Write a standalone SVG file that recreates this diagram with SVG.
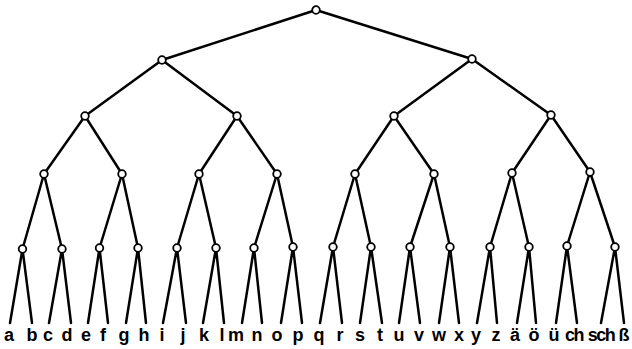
<svg xmlns="http://www.w3.org/2000/svg" width="632" height="349" viewBox="0 0 632 349">
<style>
.e{stroke:#000;stroke-width:2.5;stroke-linecap:round;fill:none}
.n{fill:#fff;stroke:#000;stroke-width:1.8}
.t{font-family:"Liberation Sans",Arial,sans-serif;font-weight:bold;font-size:18px;text-anchor:middle;fill:#000}
</style>
<rect width="632" height="349" fill="#fff"/>
<g id="edges" class="e">
<path d="M316 10L162 60M316 10L472 59"/>
<path d="M162 60L85 116M162 60L237 116M472 59L394 116M472 59L551 115"/>
<path d="M85 116L44 174M85 116L122 174M237 116L199 174M237 116L277 174M394 116L355 174M394 116L434 174M551 115L512 173M551 115L590 172"/>
<path d="M44 174L22.5 249M44 174L62 249M122 174L99.5 248M122 174L138 248M199 174L177 248M199 174L216 248M277 174L254 248M277 174L293 247M355 174L333 247M355 174L371 247M434 174L410 247M434 174L450 247M512 173L490 247M512 173L529 247M590 172L567 246M590 172L615 247"/>
<path d="M22.5 249L10 323M22.5 249L32 323M62 249L49 323M62 249L71 323M99.5 248L88 323M99.5 248L108 323M138 248L126 323M138 248L146 323M177 248L163 323M177 248L186 323M216 248L203 323M216 248L224 323M254 248L242 323M254 248L262 323M293 247L281 323M293 247L302 323M333 247L320 323M333 247L342 323M371 247L360 323M371 247L382 323M410 247L399 323M410 247L420 323M450 247L439 323M450 247L459 323M490 247L477 323M490 247L497 323M529 247L517 323M529 247L536 323M567 246L556 323M567 246L577 323M615 247L601 323M615 247L624 323"/>
</g>
<g id="nodes" class="n">
<circle id="n0" cx="316" cy="10" r="3.8"/>
<circle id="n1" cx="162" cy="60" r="3.8"/>
<circle id="n2" cx="472" cy="59" r="3.8"/>
<circle id="n3" cx="85" cy="116" r="3.8"/>
<circle id="n4" cx="237" cy="116" r="3.8"/>
<circle id="n5" cx="394" cy="116" r="3.8"/>
<circle id="n6" cx="551" cy="115" r="3.8"/>
<circle id="n7" cx="44" cy="174" r="3.8"/>
<circle id="n8" cx="122" cy="174" r="3.8"/>
<circle id="n9" cx="199" cy="174" r="3.8"/>
<circle id="n10" cx="277" cy="174" r="3.8"/>
<circle id="n11" cx="355" cy="174" r="3.8"/>
<circle id="n12" cx="434" cy="174" r="3.8"/>
<circle id="n13" cx="512" cy="173" r="3.8"/>
<circle id="n14" cx="590" cy="172" r="3.8"/>
<circle id="n15" cx="22.5" cy="249" r="3.8"/>
<circle id="n16" cx="62" cy="249" r="3.8"/>
<circle id="n17" cx="99.5" cy="248" r="3.8"/>
<circle id="n18" cx="138" cy="248" r="3.8"/>
<circle id="n19" cx="177" cy="248" r="3.8"/>
<circle id="n20" cx="216" cy="248" r="3.8"/>
<circle id="n21" cx="254" cy="248" r="3.8"/>
<circle id="n22" cx="293" cy="247" r="3.8"/>
<circle id="n23" cx="333" cy="247" r="3.8"/>
<circle id="n24" cx="371" cy="247" r="3.8"/>
<circle id="n25" cx="410" cy="247" r="3.8"/>
<circle id="n26" cx="450" cy="247" r="3.8"/>
<circle id="n27" cx="490" cy="247" r="3.8"/>
<circle id="n28" cx="529" cy="247" r="3.8"/>
<circle id="n29" cx="567" cy="246" r="3.8"/>
<circle id="n30" cx="615" cy="247" r="3.8"/>
</g>
<g id="labels" class="t">
<text x="9" y="341">a</text>
<text x="32" y="341">b</text>
<text x="48" y="341">c</text>
<text x="67" y="341">d</text>
<text x="86" y="341">e</text>
<text x="103" y="341">f</text>
<text x="124" y="341">g</text>
<text x="144" y="341">h</text>
<text x="162" y="341">i</text>
<text x="183" y="341">j</text>
<text x="204" y="341">k</text>
<text x="222" y="341">l</text>
<text x="236" y="341">m</text>
<text x="257" y="341">n</text>
<text x="277" y="341">o</text>
<text x="298" y="341">p</text>
<text x="319" y="341">q</text>
<text x="340" y="341">r</text>
<text x="360" y="341">s</text>
<text x="380" y="341">t</text>
<text x="399" y="341">u</text>
<text x="419" y="341">v</text>
<text x="439" y="341">w</text>
<text x="459" y="341">x</text>
<text x="476" y="341">y</text>
<text x="496" y="341">z</text>
<text x="515" y="341">ä</text>
<text x="534" y="341">ö</text>
<text x="554" y="341">ü</text>
<text x="574" y="341" letter-spacing="-1.5">ch</text>
<text x="601" y="341" letter-spacing="-1.5">sch</text>
<text x="624" y="341">ß</text>
</g>
</svg>
